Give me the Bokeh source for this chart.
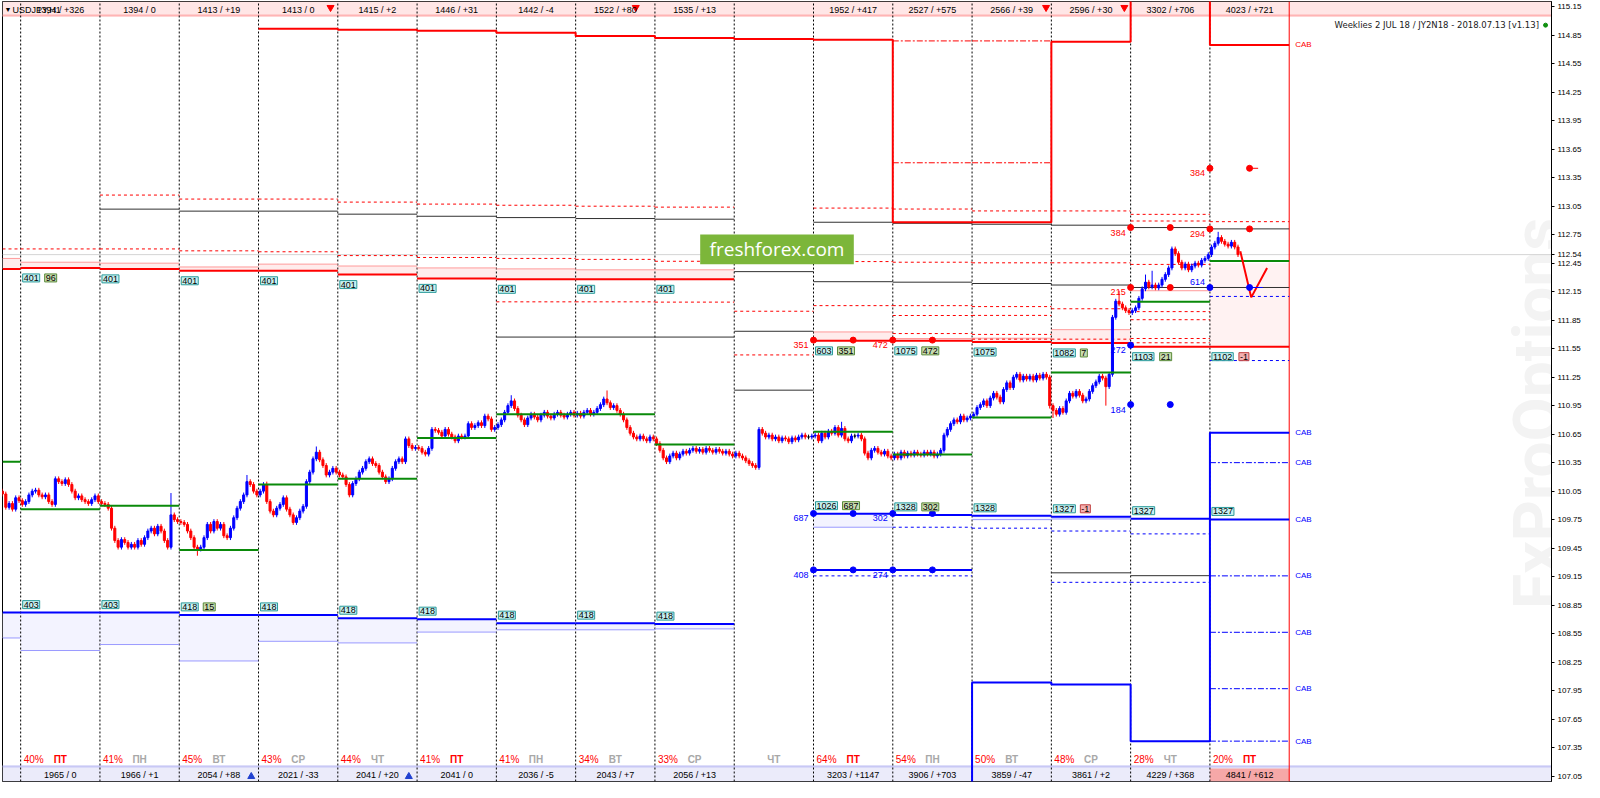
import math
from bokeh.plotting import figure
from bokeh.models import Range1d, Label, FixedTicker, PrintfTickFormatter
from bokeh.embed import file_html
from bokeh.resources import INLINE

# ---------------- data ----------------
y_ticks = [107.05, 107.35, 107.65, 107.95, 108.25, 108.55, 108.85, 109.15, 109.45,
           109.75, 110.05, 110.35, 110.65, 110.95, 111.25, 111.55, 111.85, 112.15,
           112.45, 112.54, 112.75, 113.05, 113.35, 113.65, 113.95, 114.25, 114.55, 114.85, 115.15]
last_price = 112.54

day_names = ["ПТ", "ПН", "ВТ", "СР", "ЧТ", "ПТ", "ПН", "ВТ", "СР", "ЧТ", "ПТ", "ПН", "ВТ", "СР", "ЧТ", "ПТ"]
day_pct = ["40%", "41%", "45%", "43%", "44%", "41%", "41%", "34%", "33%", "", "64%", "54%", "50%", "48%", "28%", "20%"]
top_labels = ["1394 / +326", "1394 / 0", "1413 / +19", "1413 / 0", "1415 / +2", "1446 / +31",
              "1442 / -4", "1522 / +80", "1535 / +13", "", "1952 / +417", "2527 / +575",
              "2566 / +39", "2596 / +30", "3302 / +706", "4023 / +721"]
bottom_labels = ["1965 / 0", "1966 / +1", "2054 / +88", "2021 / -33", "2041 / +20", "2041 / 0",
                 "2036 / -5", "2043 / +7", "2056 / +13", "", "3203 / +1147", "3906 / +703",
                 "3859 / -47", "3861 / +2", "4229 / +368", "4841 / +612"]

# hourly closes per day segment (segment -1 is partial)
first_open = 110.05
d_m1 = [110.02, 109.88, 109.92, 109.86, 109.98, 109.95]
d0 = [109.91, 109.94, 110.01, 110.05, 110.06, 110.01, 109.99, 110.01, 109.94, 109.91, 110.18, 110.15,
      110.13, 110.17, 110.12, 110.05, 109.98, 110.00, 109.96, 109.94, 109.92, 109.96, 110.00, 109.94]
d1 = [109.92, 109.91, 109.87, 109.66, 109.53, 109.46, 109.54, 109.51, 109.46, 109.49, 109.46, 109.53,
      109.49, 109.56, 109.63, 109.66, 109.60, 109.68, 109.63, 109.53, 109.46, 109.80, 109.75, 109.73]
d2 = [109.72, 109.70, 109.63, 109.56, 109.46, 109.44, 109.46, 109.56, 109.70, 109.63, 109.73, 109.66,
      109.70, 109.58, 109.56, 109.66, 109.77, 109.87, 109.94, 110.01, 110.15, 110.12, 110.05, 110.01]
d3 = [110.05, 110.12, 109.94, 109.84, 109.80, 109.87, 109.91, 109.98, 109.86, 109.80, 109.72, 109.77,
      109.84, 109.89, 110.15, 110.25, 110.39, 110.46, 110.38, 110.32, 110.22, 110.25, 110.29, 110.25]
d4 = [110.22, 110.20, 110.12, 110.01, 110.13, 110.18, 110.25, 110.29, 110.36, 110.39, 110.34, 110.32,
      110.25, 110.20, 110.15, 110.18, 110.29, 110.36, 110.39, 110.36, 110.60, 110.53, 110.50, 110.51]
d5 = [110.50, 110.46, 110.44, 110.50, 110.70, 110.69, 110.67, 110.63, 110.70, 110.65, 110.62, 110.58,
      110.63, 110.62, 110.63, 110.76, 110.72, 110.74, 110.77, 110.74, 110.84, 110.81, 110.70, 110.72]
d6 = [110.75, 110.80, 110.88, 110.95, 111.00, 110.92, 110.85, 110.80, 110.75, 110.82, 110.86, 110.83,
      110.80, 110.85, 110.88, 110.84, 110.82, 110.86, 110.88, 110.85, 110.83, 110.86, 110.88, 110.85]
d7 = [110.87, 110.84, 110.88, 110.90, 110.86, 110.88, 110.92, 110.96, 111.02, 110.98, 110.93, 110.95,
      110.90, 110.86, 110.80, 110.72, 110.66, 110.62, 110.60, 110.63, 110.60, 110.58, 110.62, 110.60]
d8 = [110.55, 110.48, 110.40, 110.36, 110.42, 110.45, 110.40, 110.44, 110.47, 110.45, 110.48, 110.50,
      110.47, 110.49, 110.46, 110.50, 110.48, 110.46, 110.49, 110.47, 110.45, 110.47, 110.44, 110.42]
d9 = [110.45, 110.42, 110.40, 110.37, 110.34, 110.32, 110.30, 110.70, 110.66, 110.62, 110.64, 110.60,
      110.62, 110.58, 110.61, 110.60, 110.57, 110.61, 110.59, 110.62, 110.64, 110.62, 110.62, 110.63]
d10 = [110.64, 110.58, 110.66, 110.62, 110.68, 110.66, 110.72, 110.64, 110.71, 110.60, 110.58, 110.63,
       110.63, 110.64, 110.60, 110.45, 110.40, 110.48, 110.50, 110.46, 110.44, 110.47, 110.42, 110.40]
d11 = [110.44, 110.40, 110.46, 110.42, 110.45, 110.43, 110.46, 110.44, 110.43, 110.46, 110.44, 110.46,
       110.42, 110.44, 110.48, 110.64, 110.70, 110.76, 110.80, 110.78, 110.84, 110.80, 110.82, 110.84]
d12 = [110.86, 110.93, 110.96, 111.00, 110.95, 111.03, 111.08, 111.04, 110.99, 111.12, 111.19, 111.14,
       111.25, 111.28, 111.22, 111.26, 111.23, 111.26, 111.22, 111.27, 111.24, 111.28, 111.25, 110.95]
d13 = [110.90, 110.86, 110.92, 110.88, 111.00, 111.08, 111.05, 111.10, 111.06, 111.00, 111.02, 111.10,
       111.16, 111.20, 111.26, 111.24, 111.15, 111.28, 111.88, 112.05, 112.02, 111.98, 111.95, 111.93]
d14 = [111.95, 111.98, 112.08, 112.18, 112.25, 112.20, 112.22, 112.19, 112.22, 112.28, 112.33, 112.40,
       112.60, 112.55, 112.46, 112.40, 112.44, 112.38, 112.42, 112.45, 112.43, 112.48, 112.50, 112.54]
d15 = [112.62, 112.66, 112.72, 112.68, 112.65, 112.63, 112.67, 112.62, 112.54]

# notable wick extremes (hour index -> price)
spike_hour = [45, 53, 68, 74, 89, 148, 177, 248, 311, 312, 328, 332, 340, 342, 362]
spike_high = [110.03, None, 110.22, 110.15, 110.52, 111.06, 111.11, 110.78, None, None, None, 112.16, 112.33, 112.37, 112.78]
spike_low = [None, 109.37, None, None, None, None, None, None, 110.92, 110.82, 110.95, None, None, None, None]

# projection path
proj_h = [369.2, 372.5, 377.3]
proj_p = [112.575, 112.09, 112.40]

# levels per segment (index 0 -> segment -1)
seg_ids = list(range(-1, 16))
red_main = [112.39, 112.40, 112.39, 112.37, 112.37, 112.33, 112.29, 112.28, 112.28, 112.28, None,
            111.632, 111.632, 111.62, 111.61, 111.571, 111.571]
red_light = [112.50, 112.46, 112.45, 112.41, 112.44, 112.42, 112.40, 112.39, 112.38, 112.38, None,
             111.726, 111.657, 111.66, 111.75, 112.16, None]
red_dashed = [[112.60], [112.60], [113.167, 112.60], [113.125, 112.58], [113.125, 112.57],
              [113.093, 112.53], [113.072, 112.51], [113.06, 112.50, 112.043], [113.05, 112.49, 112.043],
              [113.04, 112.47, 112.04], [111.944, 111.484], [113.03, 112.467, 112.003],
              [113.02, 112.46, 112.003, 111.899, 111.709], [113.0, 112.454, 111.993, 111.90, 111.70, 111.65],
              [113.0, 112.454, 111.97, 111.65],
              [112.964, 112.894, 112.437, 111.94, 111.855, 111.657, 111.612], [112.887]]
black_lines = [[], [], [113.019], [112.998], [112.998], [112.966], [112.944], [112.93, 111.672],
               [112.92, 111.672], [112.913, 111.672], [112.361, 111.733, 111.113], [112.881, 112.255],
               [112.87, 112.25], [112.86, 112.236], [112.85, 112.22, 109.19], [112.825, 112.194, 109.16],
               [112.811, 112.194]]
green_open = [110.36, 109.86, 109.897, 109.43, 110.12, 110.18, 110.61, 110.86, 110.86, 110.54, None,
              110.676, 110.437, 110.826, 111.30, 112.045, 112.472]
blue_main = [108.771, 108.771, 108.771, 108.747, 108.747, 108.712, 108.702, 108.66, 108.66, 108.65, None,
             109.813, 109.80, 109.79, 109.78, 109.76, 109.752]
blue_light = [108.504, 108.372, 108.435, 108.262, 108.469, 108.452, 108.566, 108.59, 108.59, 108.60, None,
              109.67, None, 109.75, 109.757, None, None]
blue_dashed = [[], [], [], [], [], [], [], [], [], [], [], [109.158], [109.67, 109.158], [109.66],
               [109.63, 109.09], [109.60, 109.09], [112.10, 111.425]]
blue_mid = [None] * 11 + [109.221, 109.221, None, None, None, None]
pink_zone_seg = [15]
pink_zone_top = [112.45]
pink_zone_bot = [111.571]

upper_box = [None, "401", "401", "401", "401", "401", "401", "401", "401", "401", None,
             "603", "1075", "1075", "1082", "1103", "1102"]
upper_tag = [None, "96", None, None, None, None, None, None, None, None, None,
             "351", "472", None, "7", "21", "-1"]
lower_box = [None, "403", "403", "418", "418", "418", "418", "418", "418", "418", None,
             "1026", "1328", "1328", "1327", "1327", "1327"]
lower_tag = [None, None, None, "15", None, None, None, None, None, None, None,
             "687", "302", None, "-1", None, None]

# CAB step lines
red_cab_seg = [3, 4, 5, 6, 7, 8, 9, 10, 11, 12, 13, 14, 15]
red_cab_val = [114.917, 114.907, 114.896, 114.875, 114.843, 114.822, 114.811, 114.801,
               112.881, 112.881, 114.78, 115.6, 114.748]
blue_cab_seg = [11, 12, 13, 14, 15]
blue_cab_val = [106.4, 108.034, 108.013, 107.418, 110.664]
blue_cab_dashdot = [110.35, 109.158, 108.564, 107.97, 107.418]
red_cab_dashdot_seg = [11, 12]
red_cab_dashdot = [114.79, 113.507]
cab_red_labels = [114.748]
cab_blue_labels = [110.664, 110.35, 109.752, 109.158, 108.564, 107.97, 107.418]

red_dot_h = [240, 252, 264, 276, 336, 348, 360, 372, 336, 348, 360, 372]
red_dot_p = [111.64, 111.64, 111.64, 111.64, 112.825, 112.825, 112.811, 112.811, 112.194, 112.194, 113.449, 113.449]
blue_dot_h = [240, 252, 264, 276, 240, 252, 264, 276, 360, 372, 336, 336, 348]
blue_dot_p = [109.815, 109.815, 109.815, 109.815, 109.221, 109.221, 109.221, 109.221,
              112.194, 112.194, 111.587, 110.961, 110.961]
num_text = ["351", "472", "687", "302", "408", "274", "384", "294", "215", "614", "384", "272", "184"]
num_h = [240, 264, 240, 264, 240, 264, 336, 360, 336, 360, 360, 336, 336]
num_p = [111.64, 111.64, 109.815, 109.815, 109.221, 109.221, 112.825, 112.811, 112.194, 112.194, 113.449, 111.587, 110.961]
num_col = ["red", "red", "blue", "blue", "blue", "blue", "red", "red", "red", "blue", "red", "blue", "blue"]

arrow_top_h = [93.8, 186.2, 310.4, 334.1]
arrow_bot_h = [69.8, 117.5]

# ---------------- figure ----------------
X0, X1 = -5.5, 463.4
Y0, Y1 = 106.993, 115.205
W, H = 1584, 782
p = figure(width=W, height=H, x_range=Range1d(X0, X1), y_range=Range1d(Y0, Y1),
           y_axis_location="right", x_axis_location=None, toolbar_location=None,
           output_backend="svg", min_border_left=2, min_border_top=1, min_border_bottom=1,
           min_border_right=0)
p.xgrid.visible = False
p.ygrid.visible = False
p.outline_line_color = "black"
p.background_fill_color = "white"
p.border_fill_color = "white"
ax = p.yaxis[0]
ax.ticker = FixedTicker(ticks=y_ticks)
ax.formatter = PrintfTickFormatter(format="%.2f")
ax.major_label_text_font = "Liberation Sans"
ax.major_label_text_font_size = "8px"
ax.major_label_text_color = "black"
ax.major_tick_out = 3
ax.major_tick_in = 0
ax.minor_tick_out = 0
ax.minor_tick_in = 0
ax.major_label_standoff = 3
ax.axis_line_color = "black"

ppu = (H - 2) / (Y1 - Y0)  # pixels per price unit (approx)
SMALL = "Liberation Sans"


def seg_span(s):
    return max(24 * s, X0), 24 * (s + 1)


def segs(values):
    a0, a1, ys = [], [], []
    for s, v in zip(seg_ids, values):
        if v is None:
            continue
        vals = v if isinstance(v, list) else [v]
        for vv in vals:
            x0, x1 = seg_span(s)
            a0.append(x0); a1.append(x1); ys.append(vv)
    return a0, a1, ys


# watermark
p.add_layout(Label(x=459.2, y=108.81, text="FxProOptions", angle=math.pi / 2,
                   text_font="Roboto", text_font_style="bold", text_font_size="64px",
                   text_color="#f3f3f3", text_align="left", text_baseline="alphabetic",
                   level="underlay"))

# bands
band_top = Y1 - 15 / ppu
band_bot = Y0 + 16 / ppu
p.quad(left=X0, right=X1, top=Y1, bottom=band_top, fill_color="#ffe6e6", line_color=None)
p.segment(x0=X0, x1=X1, y0=band_top + 1 / ppu, y1=band_top + 1 / ppu, line_color="#ffb4b4", line_width=2)
p.quad(left=X0, right=X1, top=band_bot, bottom=Y0, fill_color="#ebebfa", line_color=None)
p.segment(x0=X0, x1=X1, y0=band_bot - 1 / ppu, y1=band_bot - 1 / ppu, line_color="#c8c8f5", line_width=2)
p.quad(left=24 * 15, right=24 * 16, top=Y0 + 13 / ppu, bottom=Y0, fill_color="#f6a8a8", line_color=None)

# fills
fx0, fx1, ft, fb = [], [], [], []
for s, a, b in zip(seg_ids, red_light, red_main):
    if a is not None and b is not None and s != 14:
        x0, x1 = seg_span(s); fx0.append(x0); fx1.append(x1); ft.append(a); fb.append(b)
p.quad(left=fx0, right=fx1, top=ft, bottom=fb, fill_color="#ffecec", line_color=None)
for s, a, b in zip(pink_zone_seg, pink_zone_top, pink_zone_bot):
    x0, x1 = seg_span(s)
    p.quad(left=x0, right=x1, top=a, bottom=b, fill_color="#fff2f2", line_color=None)
bx0, bx1, bt, bb = [], [], [], []
for s, a, b in zip(seg_ids, blue_main, blue_light):
    if a is not None and b is not None:
        x0, x1 = seg_span(s); bx0.append(x0); bx1.append(x1); bt.append(a); bb.append(b)
p.quad(left=bx0, right=bx1, top=bt, bottom=bb, fill_color="#f3f3ff", line_color=None)

# current price line
p.segment(x0=X0, x1=X1, y0=last_price, y1=last_price, line_color="#d4d4d4", line_width=1)

# day separators
sep_x = [24 * k for k in range(16)]
p.segment(x0=sep_x, x1=sep_x, y0=Y0, y1=Y1, line_color="black", line_dash="2 2", line_width=1)
p.segment(x0=[384], x1=[384], y0=Y0, y1=Y1, line_color="red", line_width=1)

# level lines
a0, a1, ys = segs(red_light)
p.segment(x0=a0, x1=a1, y0=ys, y1=ys, line_color="#ff9a9a", line_width=1)
a0, a1, ys = segs(red_dashed)
p.segment(x0=a0, x1=a1, y0=ys, y1=ys, line_color="red", line_width=1, line_dash="3 3")
a0, a1, ys = segs(black_lines)
p.segment(x0=a0, x1=a1, y0=ys, y1=ys, line_color="#303030", line_width=1)
a0, a1, ys = segs(blue_light)
p.segment(x0=a0, x1=a1, y0=ys, y1=ys, line_color="#9a9aff", line_width=1)
a0, a1, ys = segs(blue_dashed)
p.segment(x0=a0, x1=a1, y0=ys, y1=ys, line_color="blue", line_width=1, line_dash="3 3")
a0, a1, ys = segs(blue_mid)
p.segment(x0=a0, x1=a1, y0=ys, y1=ys, line_color="blue", line_width=2)
a0, a1, ys = segs(red_main)
p.segment(x0=a0, x1=a1, y0=ys, y1=ys, line_color="red", line_width=2)
a0, a1, ys = segs(blue_main)
p.segment(x0=a0, x1=a1, y0=ys, y1=ys, line_color="blue", line_width=2)

# CAB lines
x0, x1 = seg_span(15)
p.segment(x0=[x0] * len(blue_cab_dashdot), x1=[x1] * len(blue_cab_dashdot), y0=blue_cab_dashdot,
          y1=blue_cab_dashdot, line_color="blue", line_width=1, line_dash="6 2 2 2")
for s in red_cab_dashdot_seg:
    x0, x1 = seg_span(s)
    p.segment(x0=[x0] * len(red_cab_dashdot), x1=[x1] * len(red_cab_dashdot), y0=red_cab_dashdot,
              y1=red_cab_dashdot, line_color="red", line_width=1, line_dash="6 2 2 2")


def step_points(seg_list, vals):
    xs, ys = [], []
    for s, v in zip(seg_list, vals):
        a, b = seg_span(s)
        xs += [a, b]; ys += [v, v]
    return xs, ys


sx, sy = step_points(red_cab_seg, red_cab_val)
p.line(sx, sy, line_color="red", line_width=2)
sx, sy = step_points(blue_cab_seg, blue_cab_val)
p.line(sx, sy, line_color="blue", line_width=2)

# candles
days = [d_m1, d0, d1, d2, d3, d4, d5, d6, d7, d8, d9, d10, d11, d12, d13, d14, d15]
bx, bo, bc = [], [], []
prev = first_open
for s, cl in zip(seg_ids, days):
    start = 24 - len(cl) if s == -1 else 0
    for j, c in enumerate(cl):
        bx.append(24 * s + start + j + 0.5)
        bo.append(prev); bc.append(c); prev = c
wick = 0.025
hi = [max(o, c) + wick for o, c in zip(bo, bc)]
lo = [min(o, c) - wick for o, c in zip(bo, bc)]
for h, sh, sl in zip(spike_hour, spike_high, spike_low):
    i = bx.index(h + 0.5)
    if sh is not None:
        hi[i] = sh
    if sl is not None:
        lo[i] = sl
cols = ["blue" if c > o else ("red" if c < o else "black") for o, c in zip(bo, bc)]
p.segment(x0=bx, x1=bx, y0=lo, y1=hi, line_color=cols, line_width=1)
p.vbar(x=bx, width=0.62, top=[max(o, c) for o, c in zip(bo, bc)],
       bottom=[min(o, c) for o, c in zip(bo, bc)], fill_color=cols, line_color=cols, line_width=1)

# green day lines (above candles)
a0, a1, ys = segs(green_open)
p.segment(x0=a0, x1=a1, y0=ys, y1=ys, line_color="#0a8a0a", line_width=2)

# projection
p.line(proj_h, proj_p, line_color="red", line_width=2)

# dots
p.scatter(red_dot_h, red_dot_p, size=6, color="red")
p.scatter(blue_dot_h, blue_dot_p, size=6, color="blue")
p.segment(x0=[372], x1=[374.6], y0=[113.449], y1=[113.449], line_color="red", line_width=1)
p.segment(x0=[372], x1=[376], y0=[112.194], y1=[112.194], line_color="blue", line_width=1)

for t, h, v, c in zip(num_text, num_h, num_p, num_col):
    p.add_layout(Label(x=h, y=v, text=t, x_offset=-5, y_offset=(5 if t == "614" else -5),
                       text_align="right", text_baseline="middle", text_font=SMALL,
                       text_font_size="9px", text_color=c))

# boxed labels


def box(h, v, text, yo, fill, line, xo=2):
    p.add_layout(Label(x=h, y=v, text=text, x_offset=xo, y_offset=yo, text_font=SMALL,
                       text_font_size="9px", text_color="black", text_align="left",
                       text_baseline="middle", background_fill_color=fill,
                       border_line_color=line, border_line_width=1, padding=1))


for s, v, t, tg in zip(seg_ids, red_main, upper_box, upper_tag):
    if t is None:
        continue
    x0, _ = seg_span(s)
    box(x0, v, t, -10, "#c8f0f0", "#2a9a9a")
    if tg is not None:
        neg = tg.startswith("-")
        box(x0, v, tg, -10, "#f4b0b0" if neg else "#c8dcb0", "#c04040" if neg else "#5a8a3a",
            xo=2 + 5 * len(t) + 7)
for s, v, t, tg in zip(seg_ids, blue_main, lower_box, lower_tag):
    if t is None:
        continue
    x0, _ = seg_span(s)
    box(x0, v, t, 8, "#c8f0f0", "#2a9a9a")
    if tg is not None:
        neg = tg.startswith("-")
        box(x0, v, tg, 8, "#f4b0b0" if neg else "#c8dcb0", "#c04040" if neg else "#5a8a3a",
            xo=2 + 5 * len(t) + 7)

# CAB texts
for v in cab_red_labels:
    p.add_layout(Label(x=384, y=v, text="CAB", x_offset=6, text_baseline="middle",
                       text_font=SMALL, text_font_size="8px", text_color="red"))
for v in cab_blue_labels:
    p.add_layout(Label(x=384, y=v, text="CAB", x_offset=6, text_baseline="middle",
                       text_font=SMALL, text_font_size="8px", text_color="blue"))

# band texts
for k in range(16):
    if top_labels[k]:
        p.add_layout(Label(x=24 * k + 12, y=Y1, y_offset=-8, text=top_labels[k], text_align="center",
                           text_baseline="middle", text_font=SMALL, text_font_size="9px",
                           text_color="black"))
    if bottom_labels[k]:
        p.add_layout(Label(x=24 * k + 12, y=Y0, y_offset=7, text=bottom_labels[k], text_align="center",
                           text_baseline="middle", text_font=SMALL, text_font_size="9px",
                           text_color="black"))
    if day_pct[k]:
        p.add_layout(Label(x=24 * k, y=Y0, x_offset=3, y_offset=22, text=day_pct[k], text_align="left",
                           text_baseline="middle", text_font=SMALL, text_font_size="10px",
                           text_color="red"))
    p.add_layout(Label(x=24 * k + 12, y=Y0, y_offset=22, text=day_names[k], text_align="center",
                       text_baseline="middle", text_font=SMALL, text_font_size="10px",
                       text_font_style="bold", text_color=("red" if day_names[k] == "ПТ" else "#a8a8a8")))

p.scatter(arrow_top_h, [Y1 - 6 / ppu] * len(arrow_top_h), marker="inverted_triangle", size=7, color="red")
p.scatter(arrow_bot_h, [Y0 + 5 / ppu] * len(arrow_bot_h), marker="triangle", size=7, color="#2040d0")

# corner / title texts
p.add_layout(Label(x=X0, y=Y1, x_offset=2, y_offset=-8, text="▼", text_baseline="middle",
                   text_font=SMALL, text_font_size="7px", text_color="black"))
p.add_layout(Label(x=X0, y=Y1, x_offset=10, y_offset=-8, text="USDJPY,H1", text_baseline="middle",
                   text_font=SMALL, text_font_size="9px", text_color="black"))
p.add_layout(Label(x=459.6, y=114.956, text="Weeklies 2 JUL 18 / JY2N18 - 2018.07.13 [v1.13]",
                   text_align="right", text_baseline="middle", text_font="DejaVu Sans",
                   text_font_size="8.5px", text_color="#202020"))
p.scatter([461.6], [114.956], size=4, color="#109010")

# banner
p.quad(left=205.7, right=252.2, top=112.752, bottom=112.44, fill_color="#7cb63a", line_color=None)
p.add_layout(Label(x=228.95, y=112.596, text="freshforex.com", text_align="center",
                   text_baseline="middle", text_font="Open Sans", text_font_size="19px",
                   text_color="white"))

open("out.html", "w").write(file_html(p, INLINE))
